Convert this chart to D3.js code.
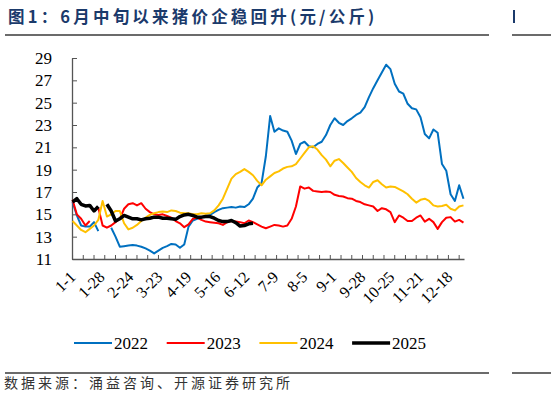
<!DOCTYPE html>
<html>
<head>
<meta charset="utf-8">
<script src="https://cdn.jsdelivr.net/npm/d3@7"></script>
<style>
body { margin: 0; background: #fff; }
</style>
</head>
<body>
<svg id="chart" width="551" height="399"></svg>
<script>
var title = "图1：6月中旬以来猪价企稳回升(元/公斤)";
var source = "数据来源：涌益咨询、开源证券研究所";
var years = ["2022", "2023", "2024", "2025"];
var colors = ["#0070C0", "#FF0000", "#FFC000", "#000000"];
var yTicks = [11, 13, 15, 17, 19, 21, 23, 25, 27, 29];
var xTickLabels = ["1-1", "1-28", "2-24", "3-23", "4-19", "5-16", "6-12", "7-9", "8-5", "9-1", "9-28", "10-25", "11-21", "12-18"];

// one value every 4 days (day 0, 4, 8 ... 364), null = no quote (spring festival)
var sampleStep = 4;
var s2022 = [
  16.1, 14.9, 14.0, 13.9, 13.9, 14.3, 13.5, null, null, 13.8,
  13.0, 12.1, 12.15, 12.2, 12.25, 12.2, 12.1, 11.95, 11.75, 11.5,
  11.75, 12.0, 12.15, 12.35, 12.3, 12.0, 12.3, 13.9, 14.45, 14.6,
  14.7, 14.85, 14.95, 15.2, 15.4, 15.55, 15.6, 15.65, 15.6, 15.7,
  15.65, 15.9, 16.4, 17.4, 17.8, 20.2, 23.8, 22.4, 22.7, 22.5,
  22.4, 21.6, 20.4, 21.3, 21.5, 21.1, 21.0, 21.3, 21.5, 22.1,
  23.0, 23.6, 23.2, 23.0, 23.35, 23.6, 23.9, 24.1, 24.6, 25.5,
  26.3, 27.0, 27.7, 28.4, 28.0, 26.7, 26.0, 25.8, 24.9, 24.5,
  24.4, 23.7, 22.2, 21.8, 22.6, 22.3, 19.5, 18.9, 16.8, 16.2,
  17.6, 16.4
];
var s2023 = [
  16.3, 15.0, 14.6, 14.0, 14.4, null, 15.6, 14.0, 13.8, 14.0,
  14.3, 14.6, 15.5, 15.9, 16.0, 15.8, 16.0, 15.5, 15.2, 15.0,
  14.95, 15.0, 14.85, 14.7, 14.4, 14.2, 13.85, 14.1, 14.6, 14.7,
  14.5, 14.35, 14.3, 14.25, 14.2, 14.05, 14.3, 14.4, 14.35, 14.3,
  14.2, 14.45, 14.3, 14.1, 13.9, 13.75, 13.9, 14.05, 14.0, 13.9,
  14.0, 14.6, 15.7, 17.5, 17.3, 17.4, 17.1, 17.05, 17.0, 17.05,
  17.0, 16.75, 16.65, 16.6, 16.45, 16.4, 16.2, 16.1, 15.9, 15.8,
  15.7, 15.3, 15.55, 15.45, 15.2, 14.3, 14.9, 14.7, 14.4, 14.4,
  14.7, 14.9, 14.35, 14.6, 14.3, 13.7, 14.3, 14.7, 14.75, 14.35,
  14.5, 14.25
];
var s2024 = [
  14.4, 14.0, 13.6, 13.4, 13.7, 14.0, 14.5, 16.2, 14.8, 15.0,
  15.3, 15.3, 14.2, 13.65, 13.8, 14.05, 14.4, 14.7, 14.95, 15.1,
  15.2, 15.25, 15.2, 15.35, 15.3, 15.15, 15.1, 15.1, 15.0, 15.0,
  15.1, 15.05, 15.1, 15.35, 15.8, 16.4, 17.3, 18.2, 18.6, 18.8,
  19.05, 18.8, 18.5, 18.0, 17.6, 18.1, 18.4, 18.7, 18.85, 19.1,
  19.25, 19.3, 19.5, 20.0, 20.5, 21.0, 21.1, 20.8, 20.3, 19.9,
  19.3, 19.8, 19.95, 19.6, 19.2, 18.8, 18.25, 17.9, 17.6, 17.4,
  17.9, 18.05, 17.7, 17.4, 17.5, 17.45, 17.25, 17.05, 16.8, 16.4,
  16.05, 16.3, 16.4, 16.2, 15.8, 15.7, 15.75, 15.85, 15.5, 15.35,
  15.7, 15.8
];
var s2025 = [
  16.1, 16.4, 15.9, 15.75, 15.8, 15.3, 15.7, null, 15.9, 15.3,
  14.4, 14.6, 14.9, 14.75, 14.6, 14.6, 14.5, 14.6, 14.65, 14.75,
  14.75, 14.65, 14.65, 14.6, 14.55, 14.8, 14.95, 15.0, 14.9, 14.75,
  14.75, 14.8, 14.8, 14.65, 14.45, 14.35, 14.35, 14.45, 14.25, 13.95,
  14.0, 14.15, 14.2
];
var series = [s2022, s2023, s2024, s2025];

// every day of a normal (non-leap) year as "m-d"
var days = d3.timeDay.range(new Date(2023, 0, 1), new Date(2024, 0, 1))
  .map(function (d) { return (d.getMonth() + 1) + "-" + d.getDate(); });

var svg = d3.select("#chart");
var serif = "'Times New Roman', 'Liberation Serif', serif";
var cjk = "'Noto Sans CJK SC', sans-serif";

var x = d3.scaleBand().domain(days).range([72, 464]).padding(0);
var y = d3.scaleLinear().domain([11, 29]).range([259, 58]);
var bw = x.bandwidth();

// header / footer
svg.append("text")
  .attr("x", 8).attr("y", 23)
  .attr("font-family", cjk).attr("font-size", 16.5).attr("font-weight", "bold")
  .attr("letter-spacing", 3.2)
  .attr("fill", "#1B3A6B")
  .text(title);

[[5, 489], [512, 551]].forEach(function (s) {
  svg.append("line").attr("x1", s[0]).attr("x2", s[1]).attr("y1", 35).attr("y2", 35)
    .attr("stroke", "#3a3a3a").attr("stroke-width", 1.3);
  svg.append("line").attr("x1", s[0]).attr("x2", s[1]).attr("y1", 373).attr("y2", 373)
    .attr("stroke", "#3a3a3a").attr("stroke-width", 1.3);
});
svg.append("rect").attr("x", 513).attr("y", 10).attr("width", 2).attr("height", 13).attr("fill", "#1B3A6B");

svg.append("text")
  .attr("x", 4).attr("y", 388)
  .attr("font-family", cjk).attr("font-size", 14)
  .attr("letter-spacing", 3)
  .attr("fill", "#333")
  .text(source);

// axes
var yAxis = svg.append("g")
  .attr("transform", "translate(72,0)")
  .call(d3.axisLeft(y).tickValues(yTicks).tickSize(-5).tickSizeOuter(0).tickPadding(20));
yAxis.selectAll("text").attr("font-family", serif).attr("font-size", 17).attr("fill", "#000");

var every10 = days.filter(function (d, i) { return i % 10 === 0; });
var xAxis = svg.append("g")
  .attr("transform", "translate(0,259)")
  .call(d3.axisBottom(x).tickValues(every10).tickSize(-4).tickSizeOuter(0).tickFormat(""));

[yAxis, xAxis].forEach(function (g) {
  g.select(".domain").attr("stroke", "#555").attr("stroke-width", 1.3);
  g.selectAll(".tick line").attr("stroke", "#555");
});

svg.append("g").selectAll("text")
  .data(xTickLabels)
  .join("text")
  .attr("transform", function (d) { return "translate(" + (x(d) + bw / 2 + 4) + ",278) rotate(-45)"; })
  .attr("text-anchor", "end")
  .attr("font-family", serif).attr("font-size", 16)
  .attr("fill", "#000")
  .text(function (d) { return d; });

// lines
var line = d3.line()
  .defined(function (d) { return d.v != null; })
  .x(function (d) { return x(days[d.i]) + bw / 2; })
  .y(function (d) { return y(d.v); });

series.forEach(function (vals, k) {
  var pts = vals.map(function (v, j) { return { i: Math.min(j * sampleStep, days.length - 1), v: v }; });
  svg.append("path")
    .datum(pts)
    .attr("fill", "none")
    .attr("stroke", colors[k])
    .attr("stroke-width", k === 3 ? 3.5 : 2)
    .attr("stroke-linejoin", "round")
    .attr("d", line);
});

// legend
var legend = svg.append("g").attr("transform", "translate(74,343)");
years.forEach(function (yr, k) {
  var g = legend.append("g").attr("transform", "translate(" + (k * 92.7) + ",0)");
  g.append("line").attr("x1", 0).attr("x2", 38).attr("y1", 0).attr("y2", 0)
    .attr("stroke", colors[k]).attr("stroke-width", k === 3 ? 3.5 : 2);
  g.append("text").attr("x", 40).attr("y", 6)
    .attr("font-family", serif).attr("font-size", 17).attr("fill", "#000")
    .text(yr);
});
</script>
</body>
</html>
